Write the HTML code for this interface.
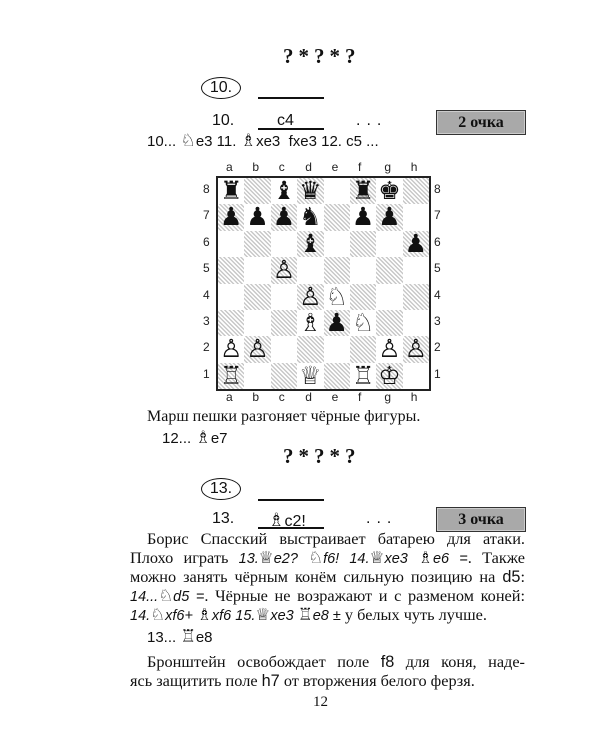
<!DOCTYPE html>
<html><head><meta charset="utf-8"><style>
body{margin:0;width:600px;height:750px;background:#fff;position:relative;overflow:hidden;font-family:"Liberation Serif",serif;color:#111}
.a{position:absolute;white-space:nowrap}
.s{font-family:"Liberation Sans",sans-serif}
.q{font-weight:bold;font-size:21px;letter-spacing:5px}
.circ{position:absolute;width:38px;height:20px;border:1.5px solid #111;border-radius:50%;font-family:"Liberation Sans",sans-serif;font-size:16px;text-align:center;line-height:20px}
.ln{position:absolute;height:1.5px;background:#111}
.box{position:absolute;background:#a9a9a9;border:1.5px solid #333;box-shadow:inset 0 0 0 1px #ccc;font-weight:bold;font-size:16px;text-align:center}
.p{position:absolute;left:130px;width:395px;font-size:16.3px;text-align:justify;text-align-last:justify;white-space:nowrap;line-height:19px}
.i{font-family:"Liberation Sans",sans-serif;font-style:italic;font-size:14.5px}
.g{font-family:"DejaVu Sans",sans-serif;font-style:normal;font-size:1.15em}
.board{position:absolute;left:216px;top:176px;width:211px;height:211px;border:2px solid #222;display:grid;grid-template-columns:repeat(8,1fr);grid-template-rows:repeat(8,1fr)}
.board div{font-family:"DejaVu Sans",sans-serif;font-size:25px;text-align:center;line-height:26px}
.d{background:repeating-linear-gradient(45deg,#fff 0 1.5px,#c8c8c8 1.5px 3px)}
.lab{position:absolute;font-family:"Liberation Sans",sans-serif;font-size:12px;color:#222}
</style></head><body>
<div class="a q" style="left:283px;top:44px">?*?*?</div>
<div class="circ" style="left:201px;top:77px">10.</div>
<div class="ln" style="left:258px;top:97px;width:66px"></div>
<div class="a s" style="left:212px;top:112px;font-size:16px">10.</div>
<div class="a s" style="left:277px;top:112px;font-size:16px">c4</div>
<div class="ln" style="left:258px;top:128px;width:66px"></div>
<div class="a s" style="left:356px;top:112px;font-size:16px;letter-spacing:6px">...</div>
<div class="box" style="left:436px;top:110px;width:88px;height:23px;line-height:23px">2 очка</div>
<div class="a s" style="left:147px;top:131px;font-size:15px">10... <span class="g">♘</span>e3 11. <span class="g">♗</span>xe3 &nbsp;fxe3 12. c5 ...</div>

<div id="files"></div>
<div class="board" id="b"></div>

<div class="a" style="left:147px;top:408px;font-size:16px">Марш пешки разгоняет чёрные фигуры.</div>
<div class="a s" style="left:162px;top:428px;font-size:15px">12... <span class="g">♗</span>e7</div>
<div class="a q" style="left:283px;top:444px">?*?*?</div>
<div class="circ" style="left:201px;top:478px">13.</div>
<div class="ln" style="left:258px;top:499px;width:66px"></div>
<div class="a s" style="left:212px;top:510px;font-size:16px">13.</div>
<div class="a s" style="left:268px;top:510px;font-size:16px"><span class="g">♗</span>c2!</div>
<div class="ln" style="left:258px;top:527px;width:66px"></div>
<div class="a s" style="left:366px;top:510px;font-size:16px;letter-spacing:6px">...</div>
<div class="box" style="left:436px;top:507px;width:88px;height:23px;line-height:23px">3 очка</div>
<div class="p" style="top:529px;padding-left:17px;width:378px">Борис Спасский выстраивает батарею для атаки.</div>
<div class="p" style="top:548px">Плохо играть <span class="i">13.<span class="g">♕</span>e2? <span class="g">♘</span>f6! 14.<span class="g">♕</span>xe3 <span class="g">♗</span>e6 =</span>. Также</div>
<div class="p" style="top:567px">можно занять чёрным конём сильную позицию на <span class="s">d5</span>:</div>
<div class="p" style="top:586px"><span class="i">14...<span class="g">♘</span>d5 =</span>. Чёрные не возражают и с разменом коней:</div>
<div class="p" style="top:605px;text-align-last:left"><span class="i">14.<span class="g">♘</span>xf6+ <span class="g">♗</span>xf6 15.<span class="g">♕</span>xe3 <span class="g">♖</span>e8 ±</span> у белых чуть лучше.</div>
<div class="a s" style="left:147px;top:627px;font-size:15px">13... <span class="g">♖</span>e8</div>
<div class="p" style="top:652px;padding-left:17px;width:378px">Бронштейн освобождает поле <span class="s">f8</span> для коня, наде-</div>
<div class="p" style="top:671px;text-align-last:left">ясь защитить поле <span class="s">h7</span> от вторжения белого ферзя.</div>
<div class="a" style="left:313px;top:694px;font-size:15px">12</div>
<script>
var pos={a8:'♜',c8:'♝',d8:'♛',f8:'♜',g8:'♚',a7:'♟',b7:'♟',c7:'♟',d7:'♞',f7:'♟',g7:'♟',d6:'♝',h6:'♟',c5:'♙',d4:'♙',e4:'♘',d3:'♗',e3:'♟',f3:'♘',a2:'♙',b2:'♙',g2:'♙',h2:'♙',a1:'♖',d1:'♕',f1:'♖',g1:'♔'};
var b=document.getElementById('b'),f='abcdefgh',h='';
for(var r=8;r>=1;r--)for(var c=0;c<8;c++){var dk=(c+r)%2==1?'d':'';h+='<div class="'+dk+'">'+(pos[f[c]+r]||'')+'</div>';}
b.innerHTML=h;
var l='';for(var c=0;c<8;c++){var x=216+c*26.4+10;l+='<div class="lab" style="left:'+x+'px;top:160px">'+f[c]+'</div><div class="lab" style="left:'+x+'px;top:390px">'+f[c]+'</div>';}
for(var r=8;r>=1;r--){var y=176+(8-r)*26.4+6;l+='<div class="lab" style="left:203px;top:'+y+'px">'+r+'</div><div class="lab" style="left:434px;top:'+y+'px">'+r+'</div>';}
document.getElementById('files').innerHTML=l;
</script>
</body></html>
